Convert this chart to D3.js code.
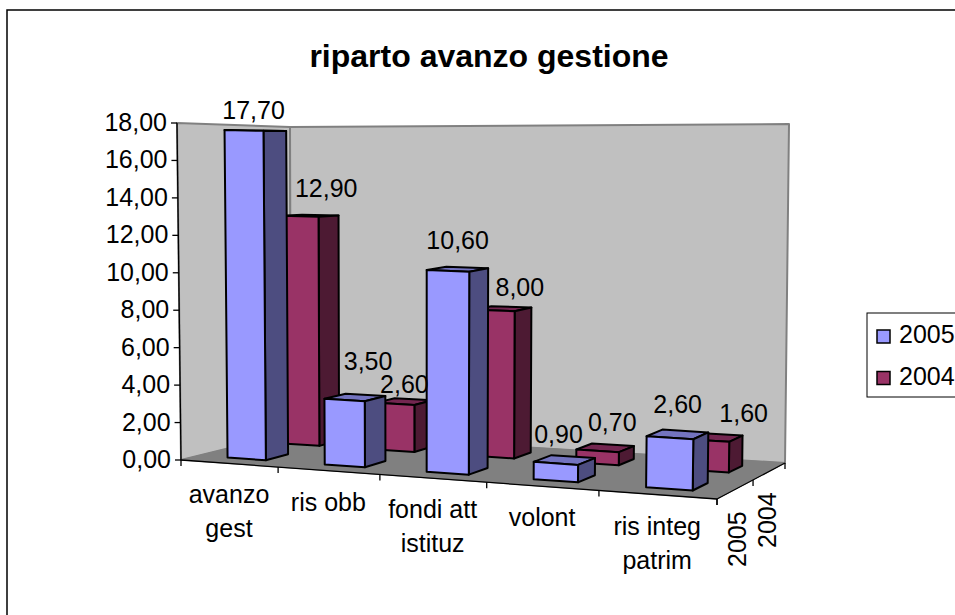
<!DOCTYPE html>
<meta charset="utf-8">
<style>
  html, body { margin: 0; padding: 0; background: #fff; overflow: hidden; }
  text { font-family: "Liberation Sans", Arial, sans-serif; fill: #000; }
</style>
<svg width="955" height="615"></svg>
<script src="https://d3js.org/d3.v7.min.js"></script>
<script>
    var categories = [["avanzo", "gest"], ["ris obb"], ["fondi att", "istituz"], ["volont"], ["ris integ", "patrim"]];
    var seriesNames = ["2005", "2004"];
    var values2005 = [17.7, 3.5, 10.6, 0.9, 2.6];
    var values2004 = [12.9, 2.6, 8.0, 0.7, 1.6];

    var svg = d3.select("svg");
    var fontSize = 25;

    // the eight corners of the plot box as they land on the page
    var box = {
        fl0: [181, 460], fr0: [717, 499], bl0: [291, 433], br0: [785, 463],
        fl1: [177, 123], fr1: [722, 139], bl1: [290, 127], br1: [789, 124]
    };

    var keyOf = function(d) { return d.join("|"); };
    var cat = d3.scaleBand().domain(categories.map(keyOf)).range([0, 1]).paddingInner(0.6).paddingOuter(0.3);
    var depth = d3.scaleBand().domain(seriesNames).range([0, 1]).paddingInner(0.6).paddingOuter(0.3);
    var val = d3.scaleLinear().domain([0, 18]).range([0, 1]);

    // foreshortening along the two floor directions
    function warp(t, k) { return k * t / (1 + (k - 1) * t); }

    function project(u, v, w) {
        var a = warp(u, 0.885), b = warp(v, 1.128);
        function mix(i) {
            var f0 = box.fl0[i] + (box.fr0[i] - box.fl0[i]) * a,
                b0 = box.bl0[i] + (box.br0[i] - box.bl0[i]) * a,
                f1 = box.fl1[i] + (box.fr1[i] - box.fl1[i]) * a,
                b1 = box.bl1[i] + (box.br1[i] - box.bl1[i]) * a;
            var low = f0 + (b0 - f0) * b, high = f1 + (b1 - f1) * b;
            return low + (high - low) * w;
        }
        return [mix(0), mix(1)];
    }

    var line = d3.line();
    function face(pts, fill, stroke, width) {
        svg.append("path")
            .attr("d", line(pts) + "Z")
            .attr("fill", fill)
            .attr("stroke", stroke)
            .attr("stroke-width", width)
            .attr("stroke-linejoin", "round");
    }

    // chart frame
    svg.append("rect").attr("x", 7).attr("y", 10).attr("width", 1000).attr("height", 700)
        .attr("fill", "#fff").attr("stroke", "#000").attr("stroke-width", 1.5);

    svg.append("text").attr("x", 489).attr("y", 67).attr("text-anchor", "middle")
        .attr("font-size", 32).attr("font-weight", "bold").text("riparto avanzo gestione");

    // walls and floor
    face([project(0, 0, 0), project(0, 1, 0), project(0, 1, 1), project(0, 0, 1)], "#c0c0c0", "#808080", 2);
    face([project(0, 1, 0), project(1, 1, 0), project(1, 1, 1), project(0, 1, 1)], "#c0c0c0", "#808080", 2);
    face([project(0, 0, 0), project(1, 0, 0), project(1, 1, 0), project(0, 1, 0)], "#808080", "#808080", 1);

    // axes
    function stroke(a, b) {
        svg.append("path").attr("d", line([a, b])).attr("stroke", "#000")
            .attr("stroke-width", 1.3).attr("fill", "none");
    }
    stroke(project(0, 0, 0), project(0, 0, 1));
    stroke(project(0, 0, 0), project(1, 0, 0));
    stroke(project(1, 0, 0), project(1, 1, 0));

    var it = d3.formatLocale({ decimal: ",", thousands: ".", grouping: [3], currency: ["", ""] }).format(".2f");

    val.ticks(9).forEach(function(t) {
        var p = project(0, 0, val(t));
        stroke(p, [p[0] - 6, p[1]]);
        svg.append("text").attr("x", p[0] - 10).attr("y", p[1] + 8).attr("text-anchor", "end")
            .attr("font-size", fontSize).text(it(t));
    });

    d3.range(categories.length + 1).forEach(function(i) {
        var p = project(i / categories.length, 0, 0);
        stroke(p, [p[0], p[1] + 6]);
    });
    d3.range(seriesNames.length + 1).forEach(function(i) {
        var p = project(1, i / seriesNames.length, 0);
        stroke(p, [p[0], p[1] + 6]);
    });

    categories.forEach(function(lines, i) {
        var p = project((i + 0.5) / categories.length, 0, 0);
        lines.forEach(function(s, j) {
            svg.append("text").attr("x", p[0]).attr("y", p[1] + 40 + j * 34)
                .attr("text-anchor", "middle").attr("font-size", fontSize).text(s);
        });
    });

    var depthLabelAt = [[746, 567], [776, 548]];
    seriesNames.forEach(function(s, i) {
        svg.append("text").attr("transform", "translate(" + depthLabelAt[i] + ") rotate(-90)")
            .attr("font-size", fontSize).text(s);
    });

    // bars, back row first
    var colors = {
        "2005": { front: "#9999ff", side: "#4d4d80", top: "#7373bf" },
        "2004": { front: "#993366", side: "#4d1a33", top: "#732650" }
    };
    var rows = [{ name: "2004", values: values2004 }, { name: "2005", values: values2005 }];
    var labelNudge = {
        "2005": [[-2, -12], [13, -27], [0, -20], [-6, -17], [0, -21]],
        "2004": [[16, -19], [0, -9], [17, -13], [7, -17], [30, -15]]
    };

    rows.forEach(function(row) {
        var c = colors[row.name];
        var v0 = depth(row.name), v1 = v0 + depth.bandwidth();
        row.values.forEach(function(d, i) {
            var u0 = cat(keyOf(categories[i])), u1 = u0 + cat.bandwidth(), w = val(d);
            face([project(u0, v0, w), project(u1, v0, w), project(u1, v1, w), project(u0, v1, w)], c.top, "#000", 2);
            face([project(u1, v0, 0), project(u1, v1, 0), project(u1, v1, w), project(u1, v0, w)], c.side, "#000", 2);
            face([project(u0, v0, 0), project(u1, v0, 0), project(u1, v0, w), project(u0, v0, w)], c.front, "#000", 2);
        });
    });

    // value labels sit on top of everything
    rows.forEach(function(row) {
        var v = depth(row.name) + depth.bandwidth() / 2;
        row.values.forEach(function(d, i) {
            var p = project(cat(keyOf(categories[i])) + cat.bandwidth() / 2, v, val(d));
            var n = labelNudge[row.name][i];
            svg.append("text").attr("x", p[0] + n[0]).attr("y", p[1] + n[1])
                .attr("text-anchor", "middle").attr("font-size", fontSize).text(it(d));
        });
    });

    // legend
    svg.append("rect").attr("x", 867).attr("y", 313).attr("width", 120).attr("height", 84)
        .attr("fill", "#fff").attr("stroke", "#000").attr("stroke-width", 1);
    rows.slice().reverse().forEach(function(row, i) {
        svg.append("rect").attr("x", 877).attr("y", 330 + i * 41.5).attr("width", 13).attr("height", 13)
            .attr("fill", colors[row.name].front).attr("stroke", "#000").attr("stroke-width", 1.5);
        svg.append("text").attr("x", 899).attr("y", 343 + i * 41.5).attr("font-size", fontSize).text(row.name);
    });
</script>
